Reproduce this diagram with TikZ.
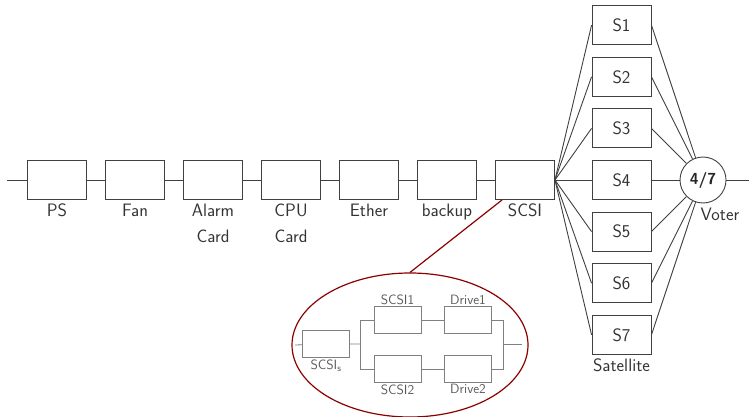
\documentclass[tikz,border=0pt]{standalone}
\usetikzlibrary{shapes.geometric, positioning, calc}

\begin{document}
\begin{tikzpicture}[
    x=1pt, y=-1pt,
    node distance=18.1pt,
    blk/.style={rectangle, draw=black!75, line width=0.9pt, minimum width=59pt, minimum height=39pt,
                inner sep=0pt, text=black!80, font=\sffamily\fontsize{18}{21}\selectfont},
    lbl/.style={anchor=north, inner sep=3.5pt, align=center, text=black!80,
                font=\sffamily\fontsize{18}{26}\selectfont},
    sblk/.style={rectangle, draw=black!50, line width=0.8pt, minimum width=47pt, minimum height=27pt, inner sep=0pt},
    slbl/.style={inner sep=1.5pt, text=black!65, font=\sffamily\fontsize{13.5}{15}\selectfont},
    wire/.style={draw=black!75, line width=0.9pt},
    swire/.style={draw=black!50, line width=0.8pt},
    zoomline/.style={draw=red!55!black, line width=1.2pt}
]
\useasboundingbox (0,0) rectangle (749,417);

% serial chain
\coordinate (in) at (7,180);
\node[blk] (ps) at (57,180) {};
\node[blk, right=of ps] (fan) {};
\node[blk, right=of fan] (alarm) {};
\node[blk, right=of alarm] (cpu) {};
\node[blk, right=of cpu] (ether) {};
\node[blk, right=of ether] (backup) {};
\node[blk, right=of backup] (scsi) {};

\node[lbl] (pslbl) at (ps.south) {PS};
\node[lbl] (fanlbl) at (fan.south) {Fan};
\node[lbl] (alarmlbl) at (alarm.south) {Alarm\\Card};
\node[lbl] (cpulbl) at (cpu.south) {CPU\\Card};
\node[lbl] (etherlbl) at (ether.south) {Ether};
\node[lbl] (backuplbl) at (backup.south) {backup};
\node[lbl] (scsilbl) at (scsi.south) {SCSI};

\draw[wire] (in) -- (ps) -- (fan) -- (alarm) -- (cpu) -- (ether) -- (backup) -- (scsi);

% satellites and voter
\node[blk] (s4) at (621.5,180) {S4};
\node[blk, above=11.7pt of s4] (s3) {S3};
\node[blk, above=11.7pt of s3] (s2) {S2};
\node[blk, above=11.7pt of s2] (s1) {S1};
\node[blk, below=11.7pt of s4] (s5) {S5};
\node[blk, below=11.7pt of s5] (s6) {S6};
\node[blk, below=11.7pt of s6] (s7) {S7};
\node[lbl] (satlbl) at (s7.south) {Satellite};

\node[circle, draw=black!75, line width=0.9pt, minimum size=46pt, inner sep=0pt, text=black!85,
      font=\sffamily\bfseries\fontsize{16}{18}\selectfont] (voter) at (703,180) {4/7};
\node[lbl] (voterlbl) at (720,204) {Voter};
\coordinate (out) at (749,180);

\foreach \i in {1,...,7} {
  \draw[wire] (scsi.east) -- (s\i.west);
  \draw[wire] (s\i.east) -- (voter);
}
\draw[wire] (voter) -- (out);

% zoom on the SCSI block
\node[ellipse, draw=red!55!black, line width=1.2pt, minimum width=236pt, minimum height=144pt] (zoomell) at (410,345) {};
\draw[zoomline] ($(scsi.south west)+(7,0)$) -- (zoomell.north);

\coordinate (zin) at (295,345);
\node[sblk] (scsis) at (326,344) {};
\coordinate (split) at (360,344);
\node[sblk] (scsione) at (397.5,320) {};
\node[sblk] (driveone) at (468,320) {};
\node[sblk] (scsitwo) at (397.5,369) {};
\node[sblk] (drivetwo) at (468,369) {};
\coordinate (join) at (503,344);
\coordinate (zout) at (522,344);

\node[slbl, below=0pt of scsis] (scsislbl) {SCSI\textsubscript{s}};
\node[slbl, above=0pt of scsione] (scsionelbl) {SCSI1};
\node[slbl, above=0pt of driveone] (driveonelbl) {Drive1};
\node[slbl, below=0pt of scsitwo] (scsitwolbl) {SCSI2};
\node[slbl, below=0pt of drivetwo] (drivetwolbl) {Drive2};

\draw[swire] (zin) -- (scsis) -- (split);
\draw[swire] (split |- scsione) -- (split |- scsitwo);
\draw[swire] (split |- scsione) -- (scsione) -- (driveone) -- (join |- driveone) -- (join |- drivetwo)
             -- (drivetwo) -- (scsitwo) -- (split |- scsitwo);
\draw[swire] (join) -- (zout);
\end{tikzpicture}
\end{document}
